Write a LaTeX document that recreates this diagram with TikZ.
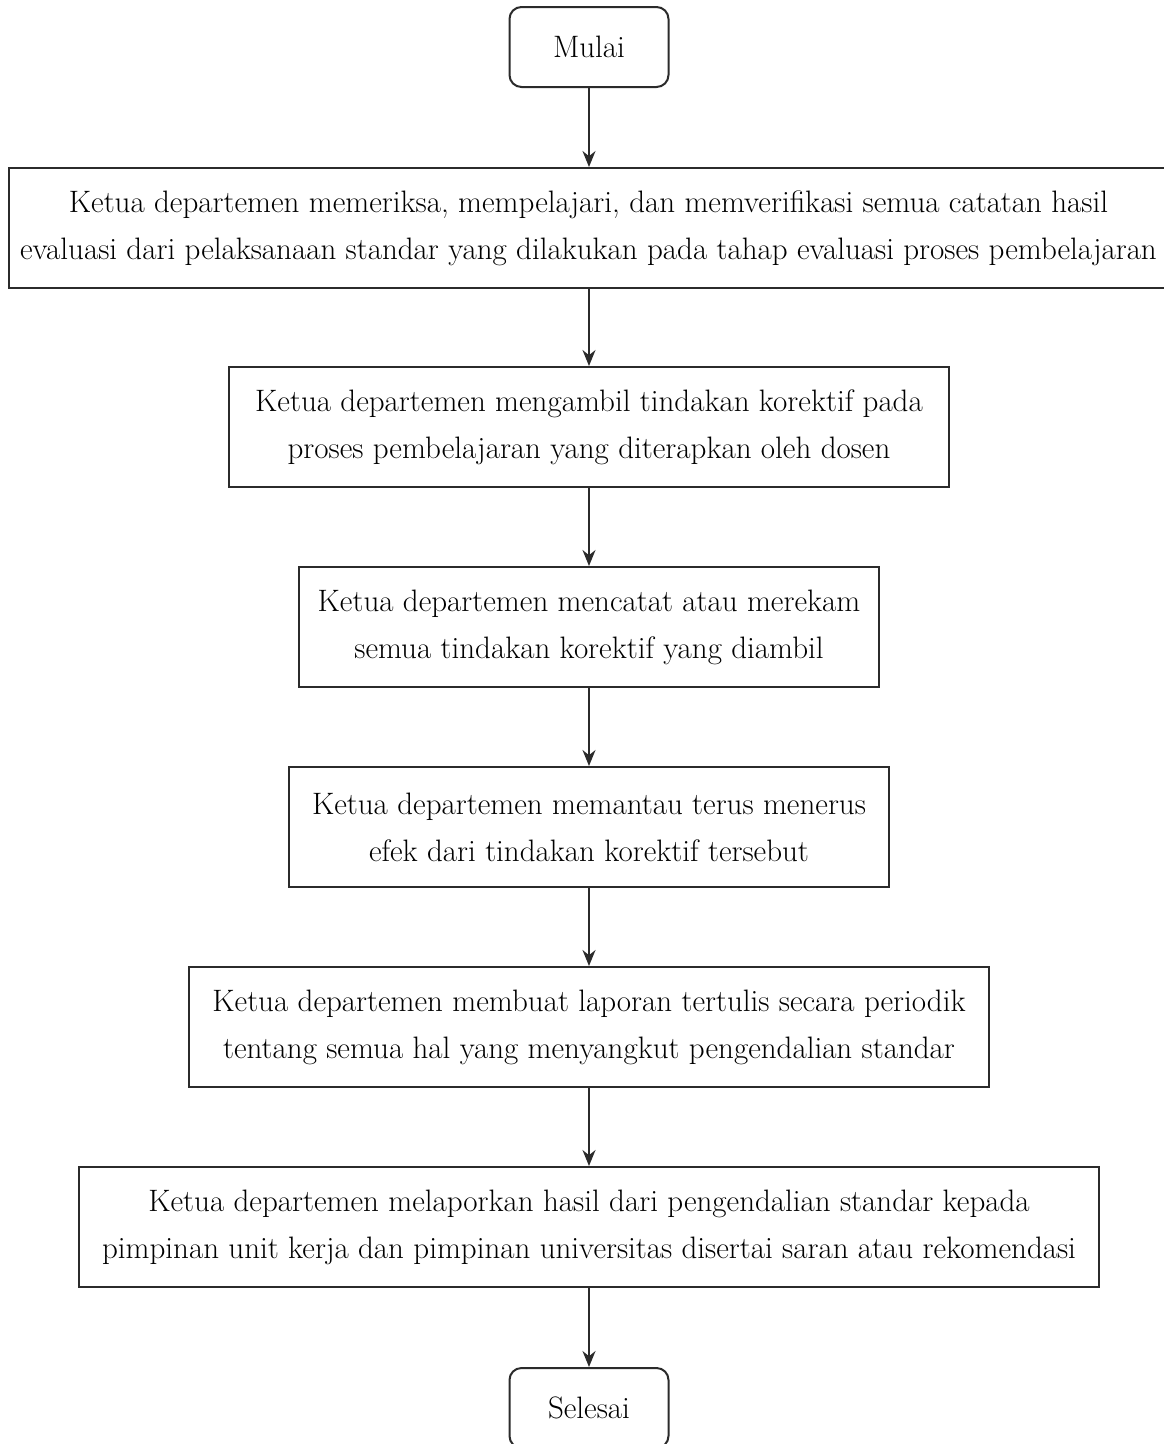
\documentclass[tikz,border=0pt]{standalone}
\usetikzlibrary{arrows.meta}
\definecolor{ln}{HTML}{2B2B2B}
\begin{document}
\begin{tikzpicture}[x=1pt,y=-1pt,
  box/.style={draw=ln,line width=2pt,minimum height=120pt,align=center,inner sep=0pt,
    font=\fontsize{31}{47}\selectfont,text=black},
  term/.style={box,rounded corners=12pt,minimum width=159pt,minimum height=80pt},
  arr/.style={draw=ln,line width=2pt,-{Stealth[length=16pt,width=13pt]}}]
\useasboundingbox (0,0) rectangle (1164,1444);
\clip (0,0) rectangle (1164,1444);
\node[term] (start) at (589,47) {Mulai};
\node[box,minimum width=1159pt] (b1) at (588.5,228) {Ketua departemen memeriksa, mempelajari, dan memverifikasi semua catatan hasil\\evaluasi dari pelaksanaan standar yang dilakukan pada tahap evaluasi proses pembelajaran};
\node[box,minimum width=720pt] (b2) at (589,427) {Ketua departemen mengambil tindakan korektif pada\\proses pembelajaran yang diterapkan oleh dosen};
\node[box,minimum width=580pt] (b3) at (589,627) {Ketua departemen mencatat atau merekam\\semua tindakan korektif yang diambil};
\node[box,minimum width=600pt] (b4) at (589,827) {Ketua departemen memantau terus menerus\\efek dari tindakan korektif tersebut};
\node[box,minimum width=800pt] (b5) at (589,1027) {Ketua departemen membuat laporan tertulis secara periodik\\tentang semua hal yang menyangkut pengendalian standar};
\node[box,minimum width=1020pt] (b6) at (589,1227) {Ketua departemen melaporkan hasil dari pengendalian standar kepada\\pimpinan unit kerja dan pimpinan universitas disertai saran atau rekomendasi};
\node[term] (end) at (589,1408) {Selesai};
\draw[arr] (start.south) -- (start.south |- b1.north);
\draw[arr] (start.south |- b1.south) -- (start.south |- b2.north);
\draw[arr] (b2.south) -- (b3.north);
\draw[arr] (b3.south) -- (b4.north);
\draw[arr] (b4.south) -- (b5.north);
\draw[arr] (b5.south) -- (b6.north);
\draw[arr] (b6.south) -- (end.north);
\end{tikzpicture}
\end{document}
